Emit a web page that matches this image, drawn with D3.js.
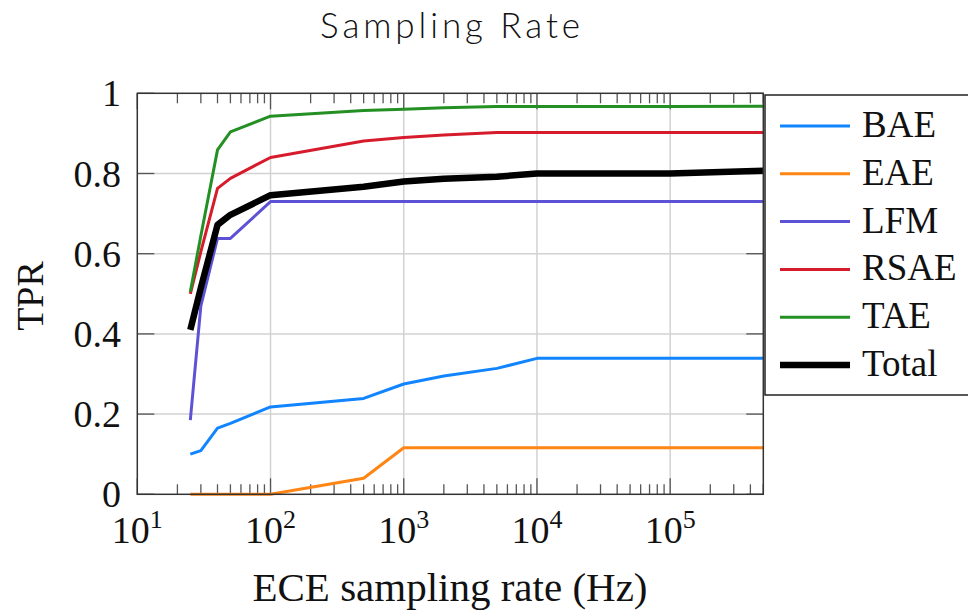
<!DOCTYPE html>
<html>
<head>
<meta charset="utf-8">
<script src="https://cdn.jsdelivr.net/npm/d3@7"></script>
<style>
  body { margin: 0; background: #fff; }
  svg { display: block; }
</style>
</head>
<body>
<svg></svg>
<script>
var width = 968;
var height = 610;

// sampling rates (Hz)
var rates = [25, 30, 40, 50, 100, 500, 1000, 2000, 5000, 10000, 100000, 500000];

var names = ['BAE', 'EAE', 'LFM', 'RSAE', 'TAE', 'Total'];
var colors = ['#1184ff', '#ff8515', '#5d52d6', '#d61c2c', '#249024', '#000000'];
var widths = [3, 3, 3, 3, 3, 6.5];

var bae   = [0.100, 0.109, 0.165, 0.177, 0.218, 0.239, 0.275, 0.295, 0.314, 0.339, 0.339, 0.339];
var eae   = [0, 0, 0, 0, 0, 0.040, 0.116, 0.116, 0.116, 0.116, 0.116, 0.116];
var lfm   = [0.185, 0.470, 0.638, 0.638, 0.730, 0.730, 0.730, 0.730, 0.730, 0.730, 0.730, 0.730];
var rsae  = [0.500, 0.605, 0.763, 0.788, 0.840, 0.881, 0.890, 0.896, 0.902, 0.902, 0.902, 0.902];
var tae   = [0.505, 0.645, 0.859, 0.904, 0.943, 0.957, 0.960, 0.964, 0.967, 0.967, 0.967, 0.968];
var total = [0.410, 0.515, 0.672, 0.697, 0.746, 0.767, 0.780, 0.787, 0.792, 0.800, 0.800, 0.807];
var series = [bae, eae, lfm, rsae, tae, total];

var yTicks = [0, 0.2, 0.4, 0.6, 0.8, 1];
var xDecades = [10, 100, 1000, 10000, 100000];

// plot box
var pLeft = 137.3, pRight = 763.3, pTop = 93.3, pBottom = 494.3;

var svg = d3.select('svg')
    .attr('width', width)
    .attr('height', height);

var x = d3.scaleLog().domain([10, 500000]).range([pLeft, pRight]);
var y = d3.scaleLinear().domain([0, 1]).range([pBottom, pTop]);

// title
svg.append('text')
    .attr('x', 450)
    .attr('y', 38)
    .attr('text-anchor', 'middle')
    .attr('font-family', 'Lato, "Noto Sans", sans-serif')
    .attr('font-weight', 300)
    .attr('font-size', 35)
    .attr('textLength', 260)
    .attr('lengthAdjust', 'spacing')
    .attr('fill', '#111')
    .text('Sampling Rate');

// grid
var grid = svg.append('g').attr('stroke', '#d2d2d2').attr('stroke-width', 1.5);
xDecades.slice(1).forEach(function (d) {
    grid.append('line')
        .attr('x1', x(d)).attr('x2', x(d))
        .attr('y1', pTop).attr('y2', pBottom);
});
yTicks.slice(1, -1).forEach(function (d) {
    grid.append('line')
        .attr('x1', pLeft).attr('x2', pRight)
        .attr('y1', y(d)).attr('y2', y(d));
});

// minor + major ticks on top and bottom
var minors = [];
for (var k = 1; k <= 5; k++) {
    for (var m = 2; m <= 9; m++) {
        var v = m * Math.pow(10, k);
        if (v <= 500000) minors.push(v);
    }
}
var ticks = svg.append('g').attr('stroke', '#555').attr('stroke-width', 1.3);
minors.forEach(function (d) {
    ticks.append('line').attr('x1', x(d)).attr('x2', x(d)).attr('y1', pBottom).attr('y2', pBottom - 10);
    ticks.append('line').attr('x1', x(d)).attr('x2', x(d)).attr('y1', pTop).attr('y2', pTop + 10);
});
xDecades.forEach(function (d) {
    ticks.append('line').attr('x1', x(d)).attr('x2', x(d)).attr('y1', pBottom).attr('y2', pBottom - 16);
    ticks.append('line').attr('x1', x(d)).attr('x2', x(d)).attr('y1', pTop).attr('y2', pTop + 16);
});
yTicks.forEach(function (d) {
    ticks.append('line').attr('x1', pLeft).attr('x2', pLeft + 17).attr('y1', y(d)).attr('y2', y(d));
    ticks.append('line').attr('x1', pRight).attr('x2', pRight - 17).attr('y1', y(d)).attr('y2', y(d));
});

// lines
var line = d3.line()
    .x(function (d, i) { return x(rates[i]); })
    .y(function (d) { return y(d); });

svg.append('defs').append('clipPath').attr('id', 'plotclip')
    .append('rect').attr('x', pLeft).attr('y', pTop - 5)
    .attr('width', pRight - pLeft).attr('height', pBottom - pTop + 10);

svg.append('g').attr('clip-path', 'url(#plotclip)')
    .selectAll('path')
    .data(series)
    .enter().append('path')
    .attr('d', line)
    .attr('fill', 'none')
    .attr('stroke', function (d, i) { return colors[i]; })
    .attr('stroke-width', function (d, i) { return widths[i]; })
    .attr('stroke-linejoin', 'round');

// frame
svg.append('rect')
    .attr('x', pLeft).attr('y', pTop)
    .attr('width', pRight - pLeft).attr('height', pBottom - pTop)
    .attr('fill', 'none')
    .attr('stroke', '#333')
    .attr('stroke-width', 1.5);

// y tick labels
svg.append('g').selectAll('text')
    .data(yTicks)
    .enter().append('text')
    .attr('x', 121)
    .attr('y', function (d) { return y(d) + 13; })
    .attr('text-anchor', 'end')
    .attr('font-family', '"Liberation Serif", serif')
    .attr('font-size', 38)
    .attr('fill', '#111')
    .text(function (d) { return d === 0 || d === 1 ? String(d) : d.toFixed(1); });

// x tick labels 10^k
var xl = svg.append('g')
    .attr('font-family', '"Liberation Serif", serif')
    .attr('fill', '#111');
xDecades.forEach(function (d) {
    var t = xl.append('text')
        .attr('x', x(d))
        .attr('y', 543)
        .attr('text-anchor', 'middle')
        .attr('font-size', 38);
    t.append('tspan').text('10');
    t.append('tspan')
        .attr('font-size', 26)
        .attr('dy', -15)
        .text(String(Math.round(Math.log10(d))));
});

// axis labels
svg.append('text')
    .attr('x', 450)
    .attr('y', 601)
    .attr('text-anchor', 'middle')
    .attr('font-family', '"Liberation Serif", serif')
    .attr('font-size', 41)
    .attr('fill', '#111')
    .text('ECE sampling rate (Hz)');

svg.append('text')
    .attr('transform', 'translate(43,296) rotate(-90)')
    .attr('text-anchor', 'middle')
    .attr('font-family', '"Liberation Serif", serif')
    .attr('font-size', 38)
    .attr('fill', '#111')
    .text('TPR');

// legend
var legend = svg.append('g');
legend.append('rect')
    .attr('x', 765).attr('y', 95)
    .attr('width', 230).attr('height', 300)
    .attr('fill', '#fff')
    .attr('stroke', '#222')
    .attr('stroke-width', 1.5);

var rows = legend.selectAll('g.row')
    .data(names)
    .enter().append('g')
    .attr('class', 'row')
    .attr('transform', function (d, i) { return 'translate(0,' + (126 + i * 47.8) + ')'; });

rows.append('line')
    .attr('x1', 780).attr('x2', 850)
    .attr('stroke', function (d, i) { return colors[i]; })
    .attr('stroke-width', function (d, i) { return widths[i]; });

rows.append('text')
    .attr('x', 862)
    .attr('y', 11)
    .attr('font-family', '"Liberation Serif", serif')
    .attr('font-size', 37)
    .attr('fill', '#111')
    .text(function (d) { return d; });
</script>
</body>
</html>
